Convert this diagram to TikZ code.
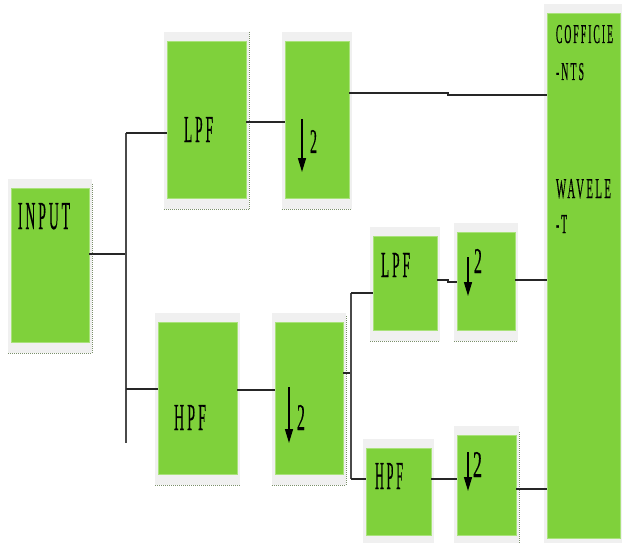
\documentclass[tikz,border=0pt]{standalone}
\usepackage{fontspec}
\setmainfont{Liberation Serif}
\newfontfamily\lblfont[LetterSpace=22,FakeBold=0.6]{Liberation Serif}
\usetikzlibrary{fit,arrows.meta}
\definecolor{gfill}{HTML}{7FD13B}
\definecolor{gedge}{HTML}{A9E27A}
\definecolor{gframe}{HTML}{F0F0F0}
\definecolor{gdot}{HTML}{7A8F6A}
\definecolor{linec}{HTML}{262626}
\definecolor{vlinec}{HTML}{4A4A4A}
\tikzset{
  gbox/.style={draw=gedge, line width=0.6pt, fill=gfill, inner sep=0pt, outer sep=0pt},
  conn/.style={draw=linec, line width=2pt},
  vconn/.style={draw=vlinec, line width=1.4pt},
  dnarrow/.style={draw=black, line width=1.4pt, -{Triangle[width=8pt,length=14pt]}},
  lbl/.style={anchor=north west, inner sep=0pt, outer sep=0pt},
  dotline/.style={gdot, densely dotted, line width=1pt}
}
% name, x1, y1, x2, y2 (green area)
\newcommand{\greenblock}[5]{%
  \fill[gframe] (#2-3,#3-9) rectangle (#4+3,#5+11);
  \draw[dotline] (#2-3,#5+11) -- (#4+3,#5+11);
  \node[gbox, fit={(#2,#3) (#4,#5)}] (#1) {};
}
% name, x, y (top-left), width, height, text
\newcommand{\boxtext}[6]{%
  \node[lbl] (#1) at (#2,#3) {\resizebox{#4pt}{#5pt}{\lblfont #6}};
}
\begin{document}
\begin{tikzpicture}[x=1pt,y=-1pt]
\useasboundingbox (0,0) rectangle (622,543);

% blocks
\greenblock{input}{11}{188}{89}{342}
\greenblock{lpfa}{167}{41}{246}{198}
\greenblock{dna}{285}{41}{349}{198}
\greenblock{hpfa}{158}{322}{237}{474}
\greenblock{dnb}{275}{322}{343}{474}
\greenblock{lpfb}{373}{236}{437}{330}
\greenblock{dnc}{457}{232}{515}{330}
\greenblock{hpfb}{366}{448}{431}{535}
\greenblock{dnd}{457}{435}{516}{535}
\greenblock{coef}{547}{13}{620}{538}

% dotted right edges of some frames
\draw[dotline] (92,184) -- (92,353);
\draw[dotline] (249,32) -- (249,209);
\draw[dotline] (346,316) -- (346,485);
\draw[dotline] (519,432) -- (519,543);

% labels
\boxtext{tinput}{18}{203}{52}{26}{INPUT}
\boxtext{tlpfa}{184}{117}{29}{25}{LPF}
\boxtext{thpfa}{174}{405}{32}{25}{HPF}
\boxtext{tlpfb}{381}{253}{29}{24}{LPF}
\boxtext{thpfb}{375}{463}{28}{26}{HPF}
\boxtext{tc1}{556}{25}{57}{18}{COFFICIE}
\boxtext{tc2}{556}{63}{28}{17}{-NTS}
\boxtext{tc3}{556}{179}{55}{19}{WAVELE}
\boxtext{tc4}{556}{215}{11}{18}{-T}

% down-sampling arrows and factors
\draw[dnarrow] (302,119) -- (302,172);
\boxtext{ta}{310}{130}{7}{23}{2}
\draw[dnarrow] (289,387) -- (289,443);
\boxtext{tb}{297}{405}{8}{25}{2}
\draw[dnarrow] (468,257) -- (468,296);
\boxtext{tcc}{474}{249}{8}{24}{2}
\draw[dnarrow] (468,452) -- (468,491);
\boxtext{td}{473}{452}{9}{25}{2}

% connector coordinates
\coordinate (ja) at (126,254);
\coordinate (jtop) at (126,133);
\coordinate (jbot) at (126,389);
\coordinate (jend) at (126,443);
\coordinate (ka) at (351,373);
\coordinate (ktop) at (351,293);
\coordinate (kbot) at (351,479);
\coordinate (st1) at (448,93);
\coordinate (st2) at (448,95);
\coordinate (st3) at (448,280);
\coordinate (st4) at (448,282);

% connectors
\draw[conn] (input.east |- ja) -- (ja);
\draw[vconn] (jtop) -- (jend);
\draw[conn] (jtop) -- (lpfa.west |- jtop);
\draw[conn] (jbot) -- (hpfa.west |- jbot);
\draw[conn] (lpfa.east |- 0,122) -- (dna.west |- 0,122);
\draw[conn] (dna.east |- st1) -- (st1) -- (st2) -- (coef.west |- st2);
\draw[conn] (hpfa.east |- 0,390) -- (dnb.west |- 0,390);
\draw[conn] (dnb.east |- ka) -- (ka);
\draw[vconn] (ktop) -- (kbot);
\draw[conn] (ktop) -- (lpfb.west |- ktop);
\draw[conn] (kbot) -- (hpfb.west |- kbot);
\draw[conn] (lpfb.east |- st3) -- (st3) -- (st4) -- (dnc.west |- st4);
\draw[conn] (dnc.east |- 0,280) -- (coef.west |- 0,280);
\draw[conn] (hpfb.east |- 0,479) -- (dnd.west |- 0,479);
\draw[conn] (dnd.east |- 0,489) -- (coef.west |- 0,489);
\end{tikzpicture}
\end{document}
